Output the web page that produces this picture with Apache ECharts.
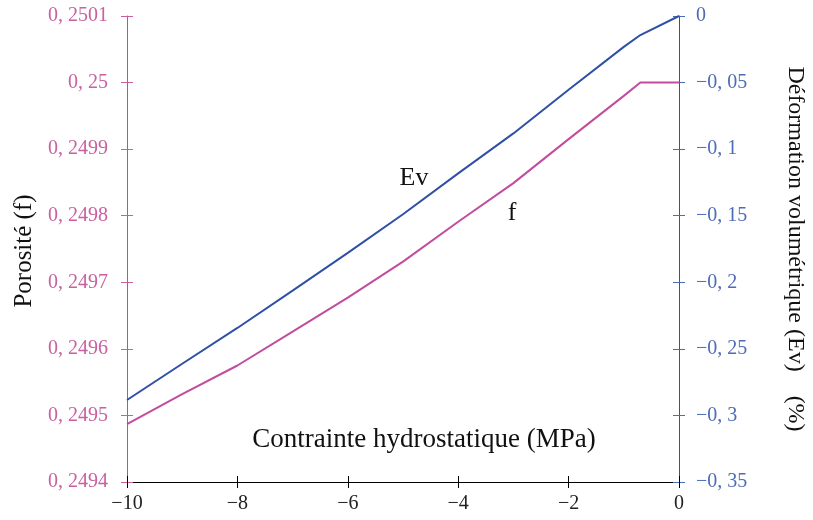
<!DOCTYPE html>
<html>
<head>
<meta charset="utf-8">
<script src="https://cdn.jsdelivr.net/npm/echarts@6/dist/echarts.min.js"></script>
<style>
  html, body { margin: 0; padding: 0; background: #ffffff; }
  #chart { width: 813px; height: 520px; }
</style>
</head>
<body>
<div id="chart"></div>
<script>
// Hydrostatic stress (MPa)
const pressure = [-10, -9, -8, -7, -6, -5, -4, -3, -2, -1, -0.7, 0];
// Volumetric strain Ev (%)
const strainEv = [-0.2884, -0.2612, -0.2343, -0.2063, -0.1779, -0.1489, -0.1182, -0.0882, -0.0554, -0.0232, -0.0143, 0];
// Porosity f
const porosity = [0.249487, 0.249532, 0.249575, 0.249626, 0.249677, 0.249731, 0.249791, 0.249849, 0.249915, 0.249980, 0.25, 0.25];

const xTicks = { min: -10, max: 0, interval: 2 };
const leftTicks = { min: 0.2494, max: 0.2501, interval: 0.0001 };
const rightTicks = { min: -0.35, max: 0, interval: 0.05 };

const FONT = 'Liberation Serif';
const PINK = '#c9609f';
const PINK_LINE = '#b9509c';
const BLUE = '#4d6cb5';
const BLUE_LINE = '#34509f';
const EV_COLOR = '#2f50a6';
const F_COLOR = '#c24c9d';

function frDecimal(v) {
  const s = String(parseFloat(v.toFixed(6)));
  return s.replace('.', ', ').replace('-', '\u2212');
}

// Axis with crossing ticks: a labelled axis with outward ticks plus a bare twin with inward ticks
function axisPair(base, lineColor, tickColor, label) {
  return [
    Object.assign({}, base, {
      axisLine: { show: true, onZero: false, lineStyle: { color: lineColor, width: 1 } },
      axisTick: { show: true, inside: false, length: 6, lineStyle: { color: tickColor } },
      axisLabel: label,
      splitLine: { show: false }
    }),
    Object.assign({}, base, {
      axisLine: { show: false, onZero: false },
      axisTick: { show: true, inside: true, length: 6, lineStyle: { color: tickColor } },
      axisLabel: { show: false },
      splitLine: { show: false }
    })
  ];
}

const chart = echarts.init(document.getElementById('chart'), null, { renderer: 'canvas' });

const xPair = axisPair(
  Object.assign({ type: 'value', position: 'bottom' }, xTicks), '#000', '#000',
  { margin: 12, color: '#222', fontFamily: FONT, fontSize: 20, formatter: v => String(v).replace('-', '\u2212') }
);
const leftPair = axisPair(
  Object.assign({ type: 'value', position: 'left' }, leftTicks), PINK_LINE, PINK,
  { margin: 19, color: PINK, fontFamily: FONT, fontSize: 20, formatter: frDecimal }
);
const rightPair = axisPair(
  Object.assign({ type: 'value', position: 'right' }, rightTicks), BLUE_LINE, BLUE,
  { margin: 17, color: BLUE, fontFamily: FONT, fontSize: 20, formatter: frDecimal }
);

chart.setOption({
  animation: false,
  backgroundColor: '#ffffff',
  grid: { left: 127, right: 134, top: 16, bottom: 38 },
  xAxis: xPair,
  yAxis: [leftPair[0], rightPair[0], leftPair[1], rightPair[1]],
  series: [
    {
      name: 'Ev', type: 'line', xAxisIndex: 0, yAxisIndex: 1,
      data: pressure.map((p, i) => [p, strainEv[i]]),
      showSymbol: false, symbol: 'none',
      lineStyle: { color: EV_COLOR, width: 2 }, z: 3
    },
    {
      name: 'f', type: 'line', xAxisIndex: 0, yAxisIndex: 0,
      data: pressure.map((p, i) => [p, porosity[i]]),
      showSymbol: false, symbol: 'none',
      lineStyle: { color: F_COLOR, width: 2 }, z: 3
    }
  ],
  graphic: [
    {
      type: 'text', x: 424, y: 440,
      style: {
        text: 'Contrainte hydrostatique (MPa)', font: '27px "' + FONT + '"',
        fill: '#111', textAlign: 'center', textVerticalAlign: 'middle'
      }
    },
    {
      type: 'text', x: 414, y: 178,
      style: {
        text: 'Ev', font: '26px "' + FONT + '"',
        fill: '#111', textAlign: 'center', textVerticalAlign: 'middle'
      }
    },
    {
      type: 'text', x: 512, y: 213,
      style: {
        text: 'f', font: '26px "' + FONT + '"',
        fill: '#111', textAlign: 'center', textVerticalAlign: 'middle'
      }
    },
    {
      type: 'text', x: 24, y: 251, rotation: Math.PI / 2,
      style: {
        text: 'Porosité (f)', font: '25px "' + FONT + '"',
        fill: '#111', textAlign: 'center', textVerticalAlign: 'middle'
      }
    },
    {
      type: 'text', x: 795, y: 249, rotation: -Math.PI / 2,
      style: {
        text: 'Déformation volumétrique (Ev)\u3000(%)', font: '24px "' + FONT + '"',
        fill: '#111', textAlign: 'center', textVerticalAlign: 'middle'
      }
    }
  ]
});
</script>
</body>
</html>
